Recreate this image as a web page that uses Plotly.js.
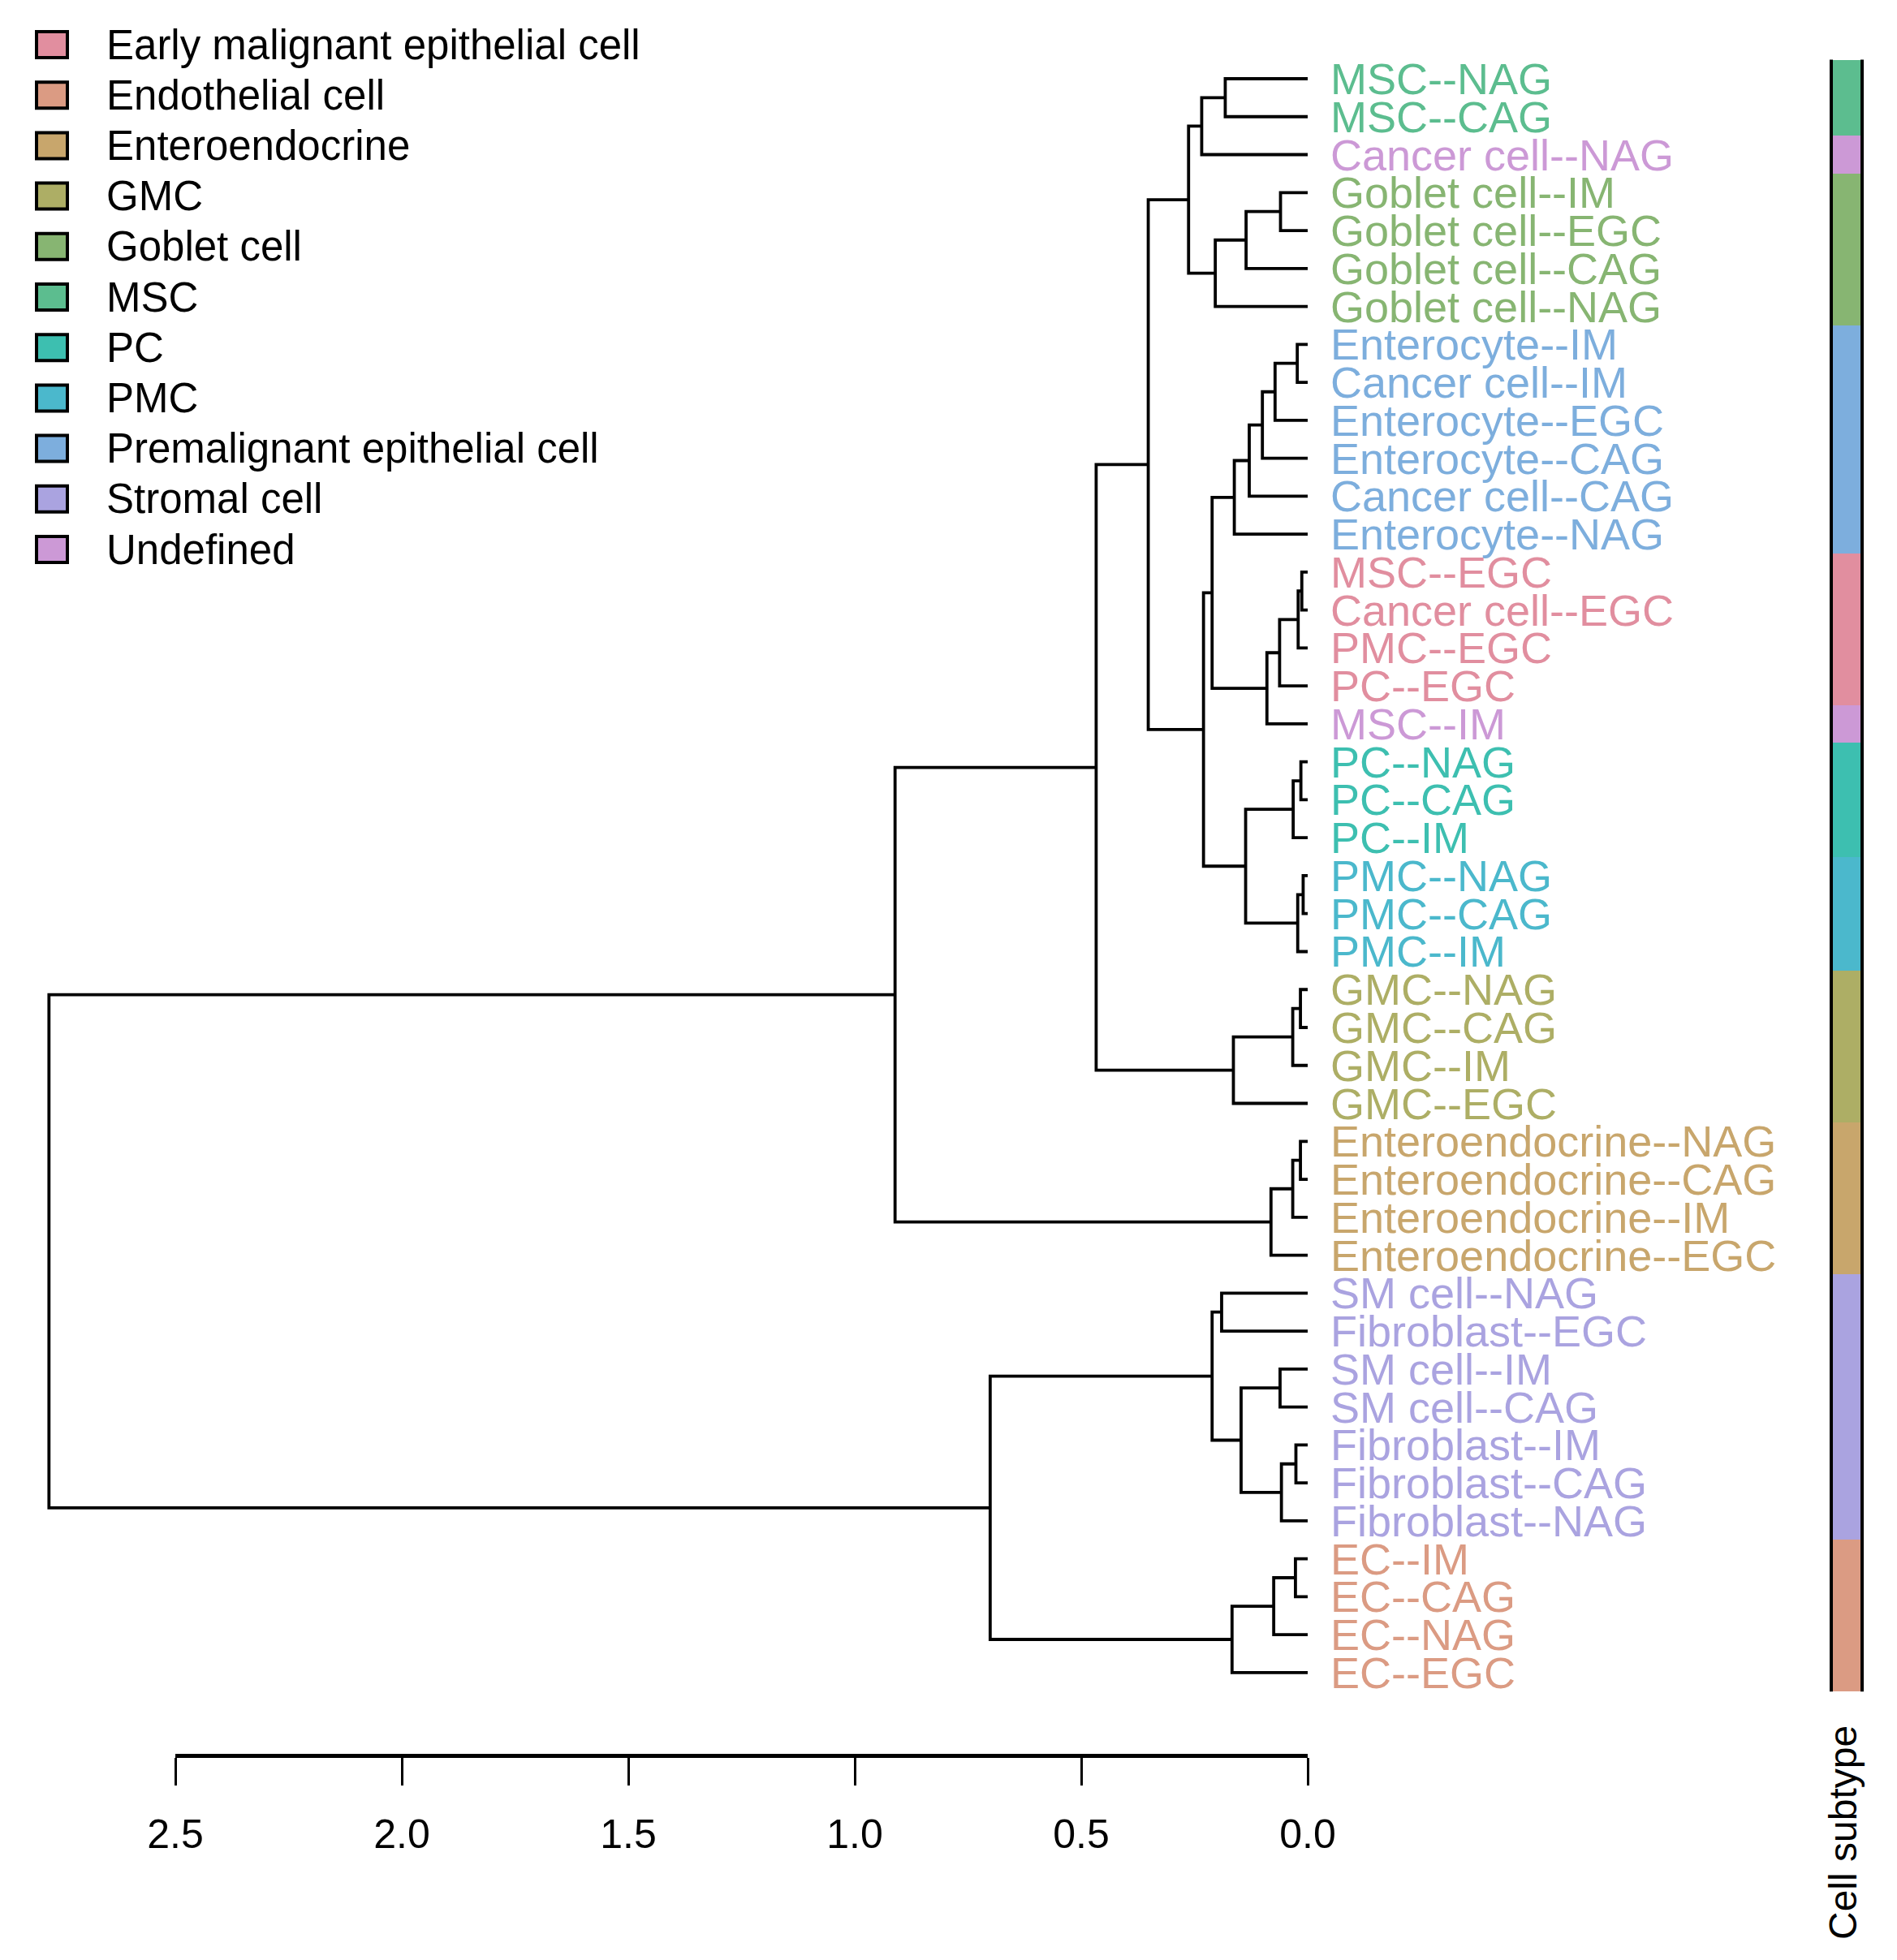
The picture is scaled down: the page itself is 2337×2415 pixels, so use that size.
<!DOCTYPE html>
<html>
<head>
<meta charset="utf-8">
<script src="https://cdn.plot.ly/plotly-3.0.1.min.js"></script>
<style>html,body{margin:0;padding:0;background:#fff;}</style>
</head>
<body>
<div id="chart" style="width:2337px;height:2415px;"></div>
<script>
// ---------------- DATA ----------------
const leafLabels = [
  "MSC--NAG","MSC--CAG","Cancer cell--NAG",
  "Goblet cell--IM","Goblet cell--EGC","Goblet cell--CAG","Goblet cell--NAG",
  "Enterocyte--IM","Cancer cell--IM","Enterocyte--EGC","Enterocyte--CAG","Cancer cell--CAG","Enterocyte--NAG",
  "MSC--EGC","Cancer cell--EGC","PMC--EGC","PC--EGC","MSC--IM",
  "PC--NAG","PC--CAG","PC--IM",
  "PMC--NAG","PMC--CAG","PMC--IM",
  "GMC--NAG","GMC--CAG","GMC--IM","GMC--EGC",
  "Enteroendocrine--NAG","Enteroendocrine--CAG","Enteroendocrine--IM","Enteroendocrine--EGC",
  "SM cell--NAG","Fibroblast--EGC","SM cell--IM","SM cell--CAG","Fibroblast--IM","Fibroblast--CAG","Fibroblast--NAG",
  "EC--IM","EC--CAG","EC--NAG","EC--EGC"
];
const leafSubtype = [
  "MSC","MSC","Undefined",
  "Goblet cell","Goblet cell","Goblet cell","Goblet cell",
  "Premalignant epithelial cell","Premalignant epithelial cell","Premalignant epithelial cell","Premalignant epithelial cell","Premalignant epithelial cell","Premalignant epithelial cell",
  "Early malignant epithelial cell","Early malignant epithelial cell","Early malignant epithelial cell","Early malignant epithelial cell","Undefined",
  "PC","PC","PC",
  "PMC","PMC","PMC",
  "GMC","GMC","GMC","GMC",
  "Enteroendocrine","Enteroendocrine","Enteroendocrine","Enteroendocrine",
  "Stromal cell","Stromal cell","Stromal cell","Stromal cell","Stromal cell","Stromal cell","Stromal cell",
  "Endothelial cell","Endothelial cell","Endothelial cell","Endothelial cell"
];
const subtypeNames = [
  "Early malignant epithelial cell","Endothelial cell","Enteroendocrine","GMC","Goblet cell",
  "MSC","PC","PMC","Premalignant epithelial cell","Stromal cell","Undefined"
];
const subtypeColors = [
  "#E18E9F","#DB9B83","#C8A66C","#ADAE65","#87B572",
  "#5CBD8F","#3DBFB0","#4BB8CC","#7DAEDD","#AAA3E0","#CC99D6"
];
// hclust-style merges: negative = leaf (1-based position top to bottom), positive = earlier merge
const mergeA = [-1, 1, -4, 3, 4, 2, -8, 7, 8, 9, 10, -14, 12, 13, 14, 11, -19, 17, -22, 19, 18, 16, 6, -25, 24, 25, 23, -29, 28, 29, 27, -33, -35, -37, 34, 33, 32, -40, 38, 39, 37, 31];
const mergeB = [-2, -3, -5, -6, -7, 5, -9, -10, -11, -12, -13, -15, -16, -17, -18, 15, -20, -21, -23, -24, 20, 21, 22, -26, -27, -28, 26, -30, -31, -32, 30, -34, -36, -38, -39, 35, 36, -41, -42, -43, 40, 41];
const mergeH = [0.182, 0.234, 0.060, 0.136, 0.204, 0.263, 0.023, 0.072, 0.100, 0.129, 0.162, 0.013, 0.021, 0.062, 0.090, 0.211, 0.015, 0.032, 0.010, 0.022, 0.137, 0.230, 0.352, 0.016, 0.033, 0.164, 0.467, 0.016, 0.033, 0.081, 0.911, 0.190, 0.061, 0.026, 0.058, 0.147, 0.211, 0.027, 0.075, 0.167, 0.701, 2.779];
const axisTicks = [2.5, 2.0, 1.5, 1.0, 0.5, 0.0];
const axisTickText = ["2.5", "2.0", "1.5", "1.0", "0.5", "0.0"];
const barTitle = "Cell subtype";

// ---------------- BUILD ----------------
const FONT = "Liberation Sans, Arial, Helvetica, sans-serif";
const W = 2337, H = 2415;
const nLeaf = leafLabels.length;
const leafPos = leafLabels.map((_, i) => i + 1);
const colorOf = s => subtypeColors[subtypeNames.indexOf(s)];

// dendrogram segments
const nodePos = [], nodeH = [];
const segX = [], segY = [];
function child(c) {
  if (c < 0) return { p: leafPos[-c - 1], h: 0 };
  return { p: nodePos[c - 1], h: nodeH[c - 1] };
}
for (let k = 0; k < mergeH.length; k++) {
  const a = child(mergeA[k]), b = child(mergeB[k]);
  const hh = mergeH[k];
  nodePos.push((a.p + b.p) / 2);
  nodeH.push(hh);
  segX.push(a.h, hh, hh, b.h, null);
  segY.push(a.p, a.p, b.p, b.p, null);
}

// pixel mapping (axes are linear, margins 0)
const x0px = 1611, unitPx = 558;            // height 0 at px 1611, 1 unit = 558 px
const y1px = 97, leafPx = 46.76;            // leaf 1 at px 97, spacing 46.76 px
const xRange = [x0px / unitPx, (x0px - W) / unitPx];
const yRange = [1 + (H - y1px) / leafPx, 1 - y1px / leafPx];

const traces = [];
traces.push({
  type: "scatter", mode: "lines", x: segX, y: segY,
  xaxis: "x", yaxis: "y",
  line: { color: "#000", width: 3.8 }, hoverinfo: "skip", showlegend: false
});
// colour bar
traces.push({
  type: "bar", orientation: "h", x: leafPos.map(() => 1), y: leafPos, width: 1,
  xaxis: "x3", yaxis: "y",
  marker: { color: leafSubtype.map(colorOf), line: { width: 0 } },
  hoverinfo: "skip", showlegend: false
});
// anchor trace for the scale axis
traces.push({
  type: "scatter", mode: "markers", x: [0], y: [0], xaxis: "x2", yaxis: "y",
  marker: { opacity: 0 }, hoverinfo: "skip", showlegend: false
});

const annotations = [];
leafLabels.forEach((lab, i) => {
  annotations.push({
    xref: "x", yref: "y", x: 0, y: leafPos[i], xanchor: "left", yanchor: "middle",
    xshift: 26, showarrow: false, text: lab,
    font: { family: FONT, size: 54, color: colorOf(leafSubtype[i]) }
  });
});
const legY0 = 55, legStep = 62.2;
const shapes = [];
subtypeNames.forEach((nm, k) => {
  const yc = legY0 + k * legStep;
  shapes.push({
    type: "rect", xref: "paper", yref: "paper",
    x0: 45 / W, x1: 83 / W, y0: 1 - (yc - 16) / H, y1: 1 - (yc + 16) / H,
    fillcolor: subtypeColors[k], line: { color: "#000", width: 4 }
  });
  annotations.push({
    xref: "paper", yref: "paper", x: 129 / W, y: 1 - yc / H, xanchor: "left", yanchor: "middle",
    showarrow: false, text: nm, font: { family: FONT, size: 51, color: "#000" }
  });
});
// bar side borders
const barL = 2256 / W, barR = 2294 / W;
[barL, barR].forEach(xp => shapes.push({
  type: "line", xref: "paper", yref: "y", x0: xp, x1: xp, y0: 0.5, y1: nLeaf + 0.5,
  line: { color: "#000", width: 4 }
}));
annotations.push({
  xref: "paper", yref: "paper", x: 2270 / W, y: 1 - 2258 / H, xanchor: "center", yanchor: "middle",
  textangle: -90, showarrow: false, text: barTitle, font: { family: FONT, size: 48, color: "#000" }
});

const layout = {
  width: W, height: H,
  margin: { l: 0, r: 0, t: 0, b: 0, pad: 0 },
  paper_bgcolor: "#fff", plot_bgcolor: "rgba(0,0,0,0)",
  showlegend: false,
  xaxis: { range: xRange, domain: [0, 1], visible: false, fixedrange: true },
  yaxis: { range: yRange, domain: [0, 1], visible: false, fixedrange: true },
  xaxis2: {
    range: [2.5, 0], domain: [(x0px - 2.5 * unitPx) / W, x0px / W],
    anchor: "free", position: 1 - 2163 / H, side: "bottom",
    showline: true, linecolor: "#000", linewidth: 5,
    ticks: "outside", ticklen: 34, tickwidth: 3, tickcolor: "#000",
    tickmode: "array", tickvals: axisTicks, ticktext: axisTickText,
    tickfont: { family: FONT, size: 50, color: "#000" },
    ticklabelstandoff: 17,
    showgrid: false, zeroline: false, fixedrange: true
  },
  xaxis3: { range: [0, 1], domain: [barL, barR], anchor: "y", visible: false, fixedrange: true },
  shapes: shapes,
  annotations: annotations,
  bargap: 0
};

Plotly.newPlot("chart", traces, layout, { staticPlot: true, displayModeBar: false });
</script>
</body>
</html>
